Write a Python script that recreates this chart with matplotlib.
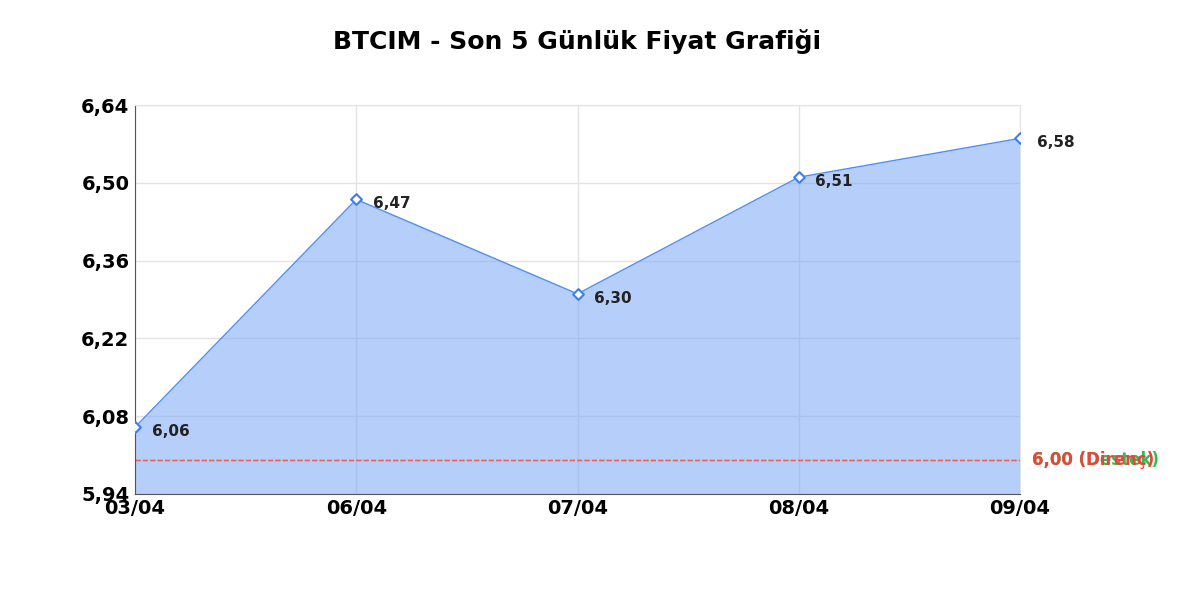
import matplotlib.pyplot as plt

plt.rcParams['font.family'] = ['DejaVu Sans']

dates = ['03/04', '06/04', '07/04', '08/04', '09/04']
prices = [6.06, 6.47, 6.30, 6.51, 6.58]
yticks = [5.94, 6.08, 6.22, 6.36, 6.50, 6.64]
support = 6.00
resistance = 6.00

fig = plt.figure(figsize=(12, 6), dpi=100)
ax = fig.add_axes([0.1125, 0.177, 0.7375, 0.648])
x = list(range(len(dates)))

ax.fill_between(x, prices, 5.94, color='#7aa7f7', alpha=0.55, lw=0, zorder=1)
ax.plot(x, prices, color='#4f8ef7', lw=1, zorder=2)
ax.scatter(x, prices, marker='D', s=30, facecolor='white', edgecolor='#3b7ff0', linewidths=1.5, zorder=3)
for xi, p in zip(x, prices):
    ax.annotate(f'{p:.2f}'.replace('.', ','), (xi, p), xytext=(12, -3), textcoords='offset points',
                va='center', fontsize=11, fontweight='bold', color='#222222')

ax.axhline(support, color='#3cc45a', ls='--', lw=1, zorder=2)
ax.axhline(resistance, color='#f0605a', ls='--', lw=1, zorder=2)
ax.text(1.013, support, '6,00 (Destek)', transform=ax.get_yaxis_transform(), color='#2fbf50',
        fontsize=12, fontweight='bold', va='center')
ax.text(1.013, resistance, '6,00 (Direnç)', transform=ax.get_yaxis_transform(), color='#e8453c',
        fontsize=12, fontweight='bold', va='center')

ax.set_xlim(0, 4)
ax.set_ylim(5.94, 6.64)
ax.set_xticks(x, dates)
ax.set_yticks(yticks, [f'{t:.2f}'.replace('.', ',') for t in yticks])
ax.tick_params(labelsize=14, length=0, pad=4)
for lbl in ax.get_xticklabels() + ax.get_yticklabels():
    lbl.set_fontweight('bold')
ax.grid(True, color='#e3e3e3', lw=1)
ax.set_axisbelow(True)
for s in ['top', 'right']:
    ax.spines[s].set_color('#e3e3e3')
for s in ['left', 'bottom']:
    ax.spines[s].set_color('#555555')
ax.set_title('BTCIM - Son 5 Günlük Fiyat Grafiği', fontsize=18, fontweight='bold', pad=40)

fig.savefig('out.png')
